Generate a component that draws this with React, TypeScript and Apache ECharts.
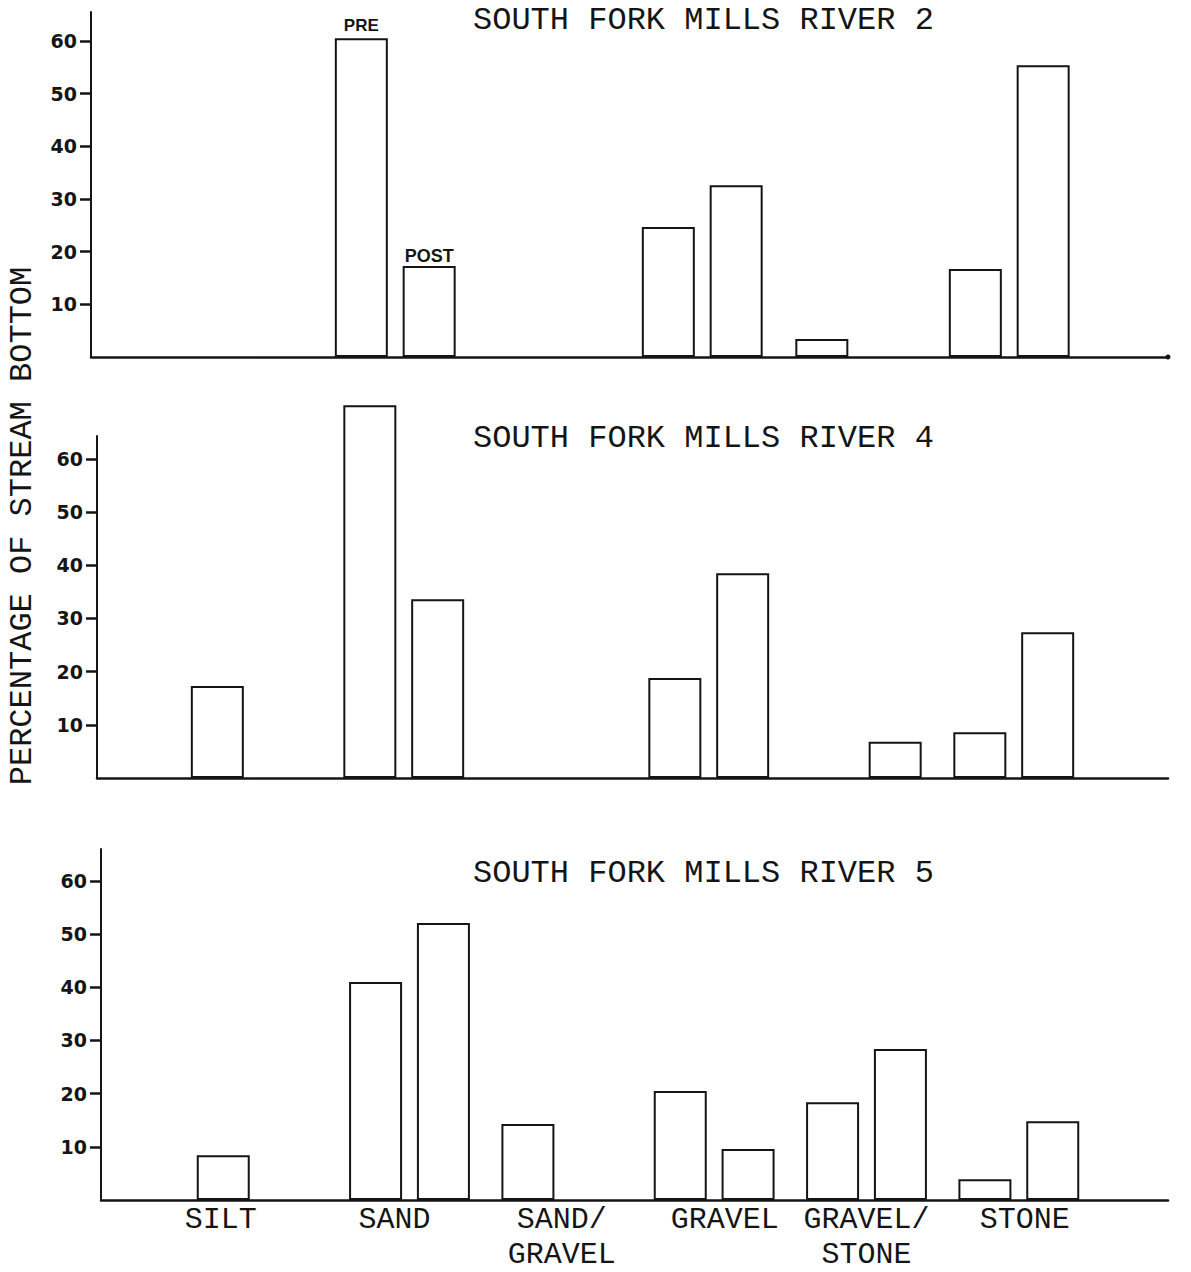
import React, { useEffect, useRef } from 'react';
import * as echarts from 'echarts';

const categories = ['SILT', 'SAND', 'SAND/GRAVEL', 'GRAVEL', 'GRAVEL/STONE', 'STONE'];
const panelTitles = ['SOUTH FORK MILLS RIVER 2', 'SOUTH FORK MILLS RIVER 4', 'SOUTH FORK MILLS RIVER 5'];
const seriesNames = ['PRE', 'POST'];
const river2Pre = [null, 60.5, null, 24.7, 3.4, 16.7];
const river2Post = [null, 17.3, null, 32.6, null, 55.4];
const river4Pre = [17.3, 70.1, null, 18.8, null, 8.6];
const river4Post = [null, 33.6, null, 38.5, 6.8, 27.4];
const river5Pre = [8.4, 41.0, 14.3, 20.5, 18.4, 3.9];
const river5Post = [null, 52.1, null, 9.6, 28.4, 14.8];
const yTicks = [10, 20, 30, 40, 50, 60];
const yAxisTitle = 'PERCENTAGE OF STREAM BOTTOM';

const INK = '#151515';
const MONO = '"Liberation Mono", "DejaVu Sans Mono", monospace';

const panelData = [
  [river2Pre, river2Post],
  [river4Pre, river4Post],
  [river5Pre, river5Post],
];

const layout = [
  { axisLeft: 91, barLeft: 165, barSpan: 921, top: 12, height: 345, max: 65.5, titleTop: 4, endDot: true },
  { axisLeft: 97, barLeft: 175, barSpan: 915, top: 436, height: 342, max: 64.3, titleTop: 422, endDot: false },
  { axisLeft: 101, barLeft: 181, barSpan: 914, top: 849, height: 351, max: 66, titleTop: 857, endDot: false },
];
const RIGHT_END = 1168;

function buildOption() {
  const grid: any[] = [];
  const xAxis: any[] = [];
  const yAxis: any[] = [];
  const series: any[] = [];
  const title: any[] = [];

  const monoRich = { fontFamily: MONO, fontSize: 30, lineHeight: 35, color: INK };

  layout.forEach((L, i) => {
    grid.push({ left: L.axisLeft, top: L.top, width: RIGHT_END - L.axisLeft, height: L.height });
    grid.push({ left: L.barLeft, top: L.top, width: L.barSpan, height: L.height });

    xAxis.push({
      gridIndex: 2 * i,
      type: 'category',
      data: [''],
      axisLine: {
        show: true,
        lineStyle: { color: INK, width: 2.5 },
        symbol: L.endDot ? ['none', 'circle'] : ['none', 'none'],
        symbolSize: [5, 5],
      },
      axisTick: { show: false },
      axisLabel: { show: false },
      splitLine: { show: false },
    });
    yAxis.push({
      gridIndex: 2 * i,
      type: 'value',
      min: 0,
      max: L.max,
      axisLine: { show: true, lineStyle: { color: INK, width: 2 } },
      axisTick: { show: true, length: 11, lineStyle: { color: INK, width: 2.5 }, customValues: yTicks },
      axisLabel: {
        customValues: yTicks,
        margin: 14,
        fontFamily: '"DejaVu Sans", sans-serif',
        fontWeight: 'bold',
        fontSize: 19,
        color: INK,
      },
      splitLine: { show: false },
    });

    xAxis.push({
      gridIndex: 2 * i + 1,
      type: 'category',
      data: categories,
      axisLine: { show: false },
      axisTick: { show: false },
      axisLabel: {
        show: i === 2,
        interval: 0,
        margin: 2,
        formatter: (v: string) => {
          switch (v) {
            case 'SILT': return '{silt|SILT}';
            case 'SAND': return '{sand|SAND}';
            case 'SAND/GRAVEL': return '{t|SAND/}\n{t|GRAVEL}';
            case 'GRAVEL': return '{gravel|GRAVEL}';
            case 'GRAVEL/STONE': return '{t|GRAVEL/}\n{t|STONE}';
            case 'STONE': return '{stone|STONE}';
          }
          return v;
        },
        rich: {
          t: { ...monoRich },
          silt: { ...monoRich, padding: [0, 73, 0, 0] },
          sand: { ...monoRich, padding: [0, 30, 0, 0] },
          gravel: { ...monoRich, padding: [0, 0, 0, 21] },
          stone: { ...monoRich, padding: [0, 0, 0, 12] },
        },
      },
      splitLine: { show: false },
    });
    yAxis.push({ gridIndex: 2 * i + 1, type: 'value', min: 0, max: L.max, show: false });

    panelData[i].forEach((vals, s) => {
      series.push({
        type: 'bar',
        name: seriesNames[s],
        xAxisIndex: 2 * i + 1,
        yAxisIndex: 2 * i + 1,
        barWidth: 53,
        barGap: '28%',
        clip: false,
        itemStyle: { color: '#ffffff', borderColor: INK, borderWidth: 2 },
        data: vals.map((v, k) => {
          if (v === null) return '-';
          if (i === 0 && k === 1) {
            return {
              value: v,
              label: {
                show: true,
                position: 'top',
                distance: s === 0 ? 4 : 1,
                formatter: seriesNames[s],
                fontFamily: '"Liberation Sans", Arial, sans-serif',
                fontWeight: 'bold',
                fontSize: s === 0 ? 17 : 18,
                color: INK,
              },
            };
          }
          return v;
        }),
      });
    });

    title.push({
      text: panelTitles[i],
      left: 473,
      top: L.titleTop,
      padding: 0,
      textStyle: { fontFamily: MONO, fontSize: 32, fontWeight: 'normal', color: INK },
    });
  });

  return {
    animation: false,
    backgroundColor: '#ffffff',
    title,
    grid,
    xAxis,
    yAxis,
    series,
    graphic: [
      {
        type: 'text',
        x: 22,
        y: 526,
        rotation: Math.PI / 2,
        style: {
          text: yAxisTitle,
          font: '32px "Liberation Mono", monospace',
          fill: INK,
          textAlign: 'center',
          textVerticalAlign: 'middle',
        },
      },
    ],
  };
}

export default function App() {
  const ref = useRef<HTMLDivElement>(null);
  useEffect(() => {
    const chart = echarts.init(ref.current!, null, { renderer: 'svg' });
    chart.setOption(buildOption() as any);
    return () => chart.dispose();
  }, []);
  return (
    <div
      ref={ref}
      style={{ position: 'absolute', left: 0, top: 0, width: 1191, height: 1272, background: '#fff' }}
    />
  );
}
